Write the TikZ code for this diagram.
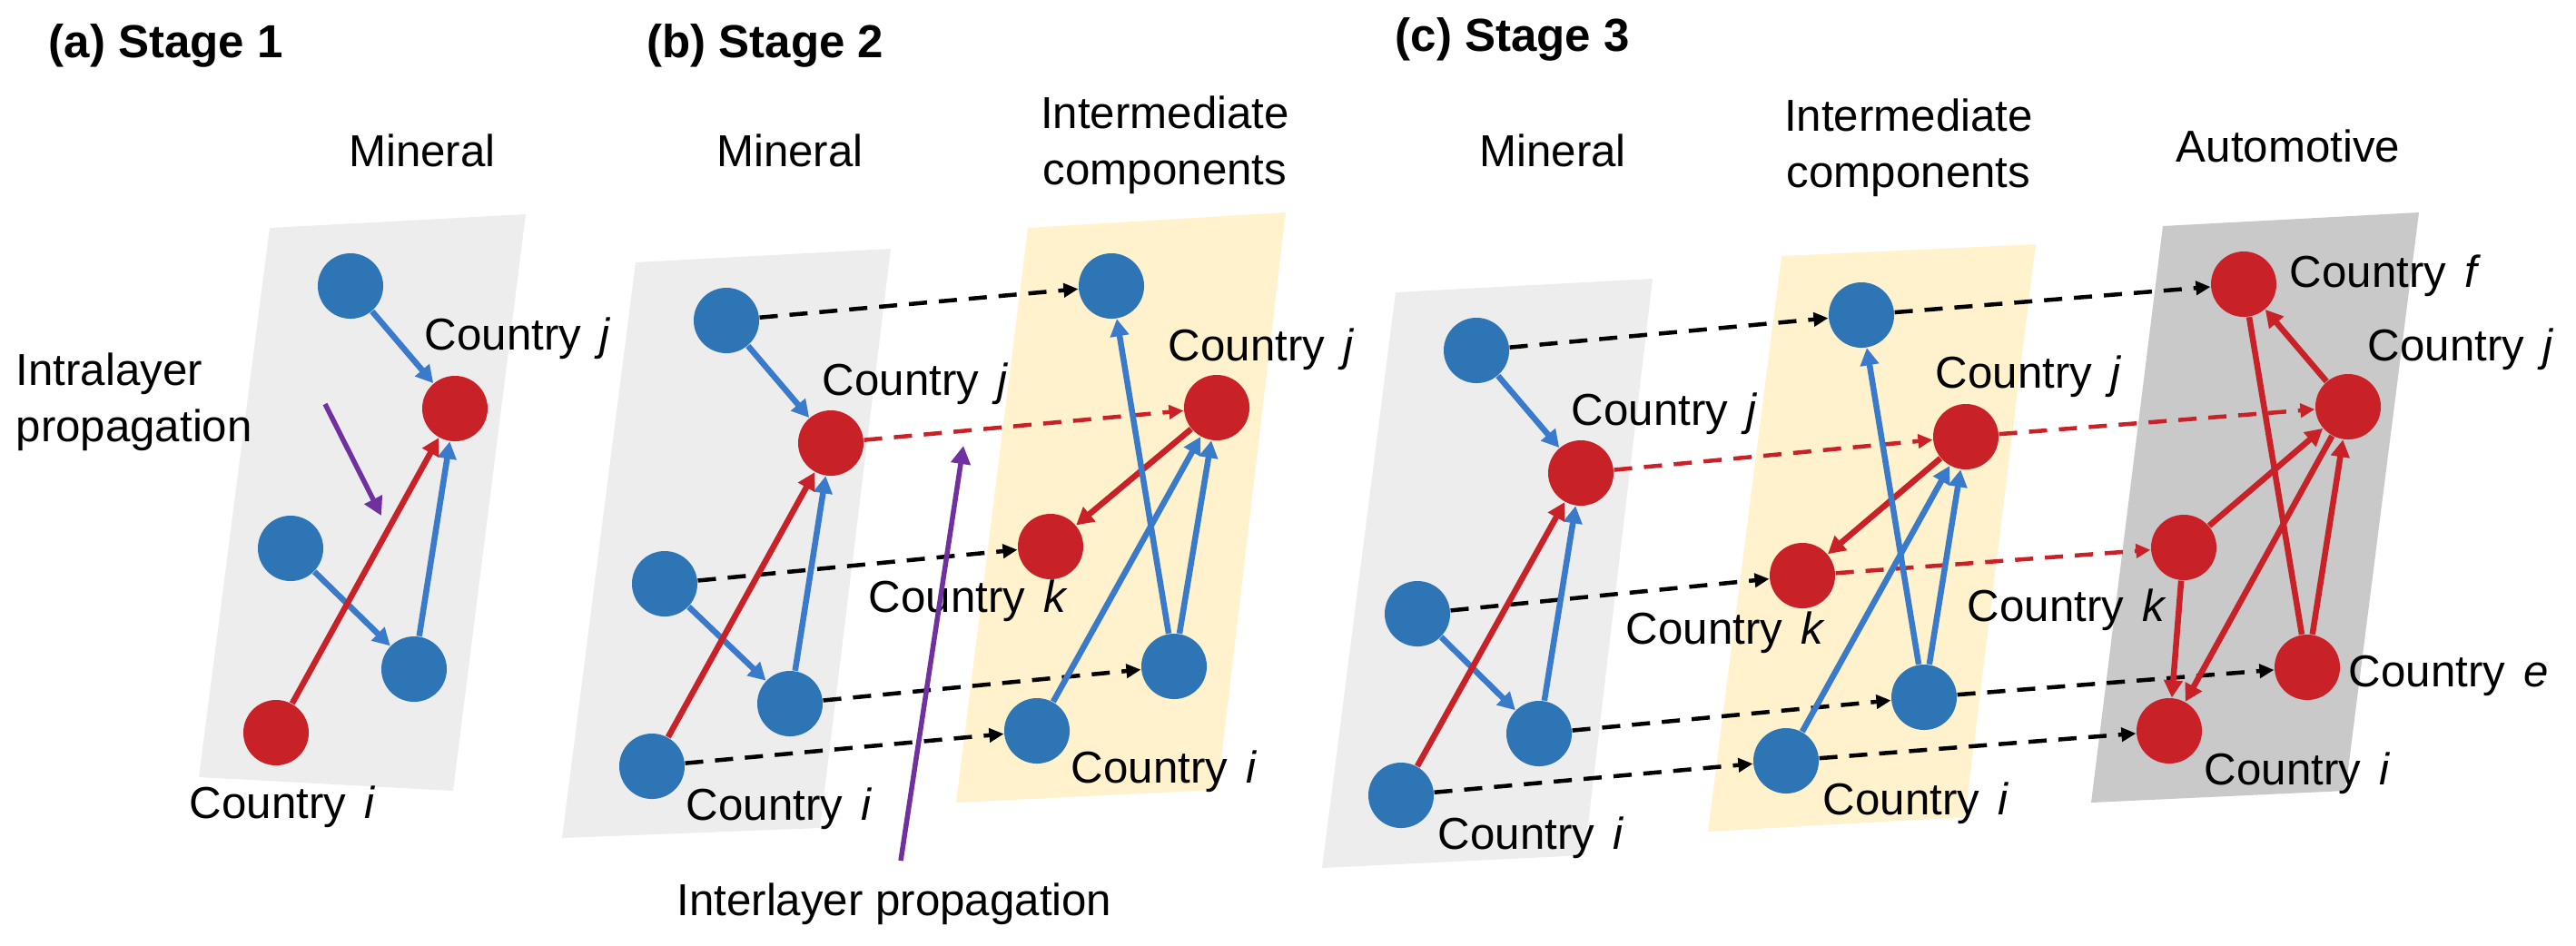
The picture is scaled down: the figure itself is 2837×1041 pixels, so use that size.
\documentclass[tikz,border=0pt]{standalone}
\usepackage{fontspec}
\setmainfont{Liberation Sans}
\usetikzlibrary{arrows.meta}
\definecolor{nblue}{HTML}{2E75B6}
\definecolor{eblue}{HTML}{3A7ACB}
\definecolor{nred}{HTML}{C82127}
\definecolor{ppl}{HTML}{7030A0}
\definecolor{lgray}{HTML}{EDEDED}
\definecolor{lyel}{HTML}{FFF2CC}
\definecolor{dgray}{HTML}{C9C9C9}
\begin{document}
\begin{tikzpicture}[x=0.01cm,y=-0.01cm,
  font=\fontsize{14}{17.6}\selectfont,
  bn/.style={circle,fill=nblue,minimum size=0.72cm,inner sep=0},
  rn/.style={circle,fill=nred,minimum size=0.72cm,inner sep=0},
  be/.style={draw=eblue,line width=0.065cm,-{Triangle[length=0.19cm,width=0.2cm]}},
  re/.style={draw=nred,line width=0.065cm,-{Triangle[length=0.19cm,width=0.2cm]}},
  rl/.style={draw=nred,line width=0.065cm},
  kd/.style={draw=black,line width=0.045cm,dash pattern=on 0.2cm off 0.13cm,-{Triangle[length=0.16cm,width=0.15cm]}},
  rd/.style={kd,draw=nred},
  pa/.style={draw=ppl,line width=0.055cm,-{Triangle[length=0.2cm,width=0.21cm]}},
  lab/.style={anchor=base west,inner sep=0},
  ttl/.style={anchor=base west,inner sep=0,font=\fontsize{14.5}{17.6}\selectfont\bfseries},
  layer/.style={inner sep=0,align=center}
]
\useasboundingbox (0,0) rectangle (2837,1041);
% panels
\fill[lgray] (297,251) -- (579,236) -- (499,871) -- (219,856) -- cycle;
\fill[lgray] (700,289) -- (981,274) -- (903,912) -- (619,923) -- cycle;
\fill[lyel] (1132,251) -- (1416,234) -- (1341,870) -- (1053,884) -- cycle;
\fill[lgray] (1537,322) -- (1820,307) -- (1745,942) -- (1456,956) -- cycle;
\fill[lyel] (1962,282) -- (2242,269) -- (2164,900) -- (1881,916) -- cycle;
\fill[dgray] (2382,249) -- (2664,234) -- (2583,871) -- (2303,884) -- cycle;

% titles
\node[ttl] (ta) at (53,63) {(a) Stage 1};
\node[ttl] (tb) at (712,63) {(b) Stage 2};
\node[ttl] (tc) at (1536,56) {(c) Stage 3};
\node[layer] (ma) at (465,166) {Mineral};
\node[layer] (mb) at (870,166) {Mineral};
\node[layer] (mc) at (1710,166) {Mineral};
\node[layer,anchor=north] (ib) at (1283,105) {Intermediate\\components};
\node[layer,anchor=north] (ic) at (2102,108) {Intermediate\\components};
\node[layer] (au) at (2520,161) {Automotive};

% stage 1 nodes
\node[bn] (a1) at (386,315) {};
\node[rn] (aj) at (501,450) {};
\node[bn] (a2) at (320,604) {};
\node[bn] (a3) at (456,737) {};
\node[rn] (ai) at (304,807) {};
% stage 2 nodes
\node[bn] (b1) at (800,353) {};
\node[rn] (bj) at (915,488) {};
\node[bn] (b2) at (732,643) {};
\node[bn] (b3) at (870,775) {};
\node[bn] (bi) at (718,844) {};
\node[bn] (c1) at (1224,315) {};
\node[rn] (cj) at (1340,449) {};
\node[rn] (ck) at (1157,602) {};
\node[bn] (c3) at (1293,734) {};
\node[bn] (ci) at (1142,805) {};
% stage 3 nodes
\node[bn] (d1) at (1626,386) {};
\node[rn] (dj) at (1741,521) {};
\node[bn] (d2) at (1561,676) {};
\node[bn] (d3) at (1695,808) {};
\node[bn] (di) at (1543,876) {};
\node[bn] (e1) at (2050,347) {};
\node[rn] (ej) at (2165,481) {};
\node[rn] (ek) at (1985,634) {};
\node[bn] (e3) at (2119,768) {};
\node[bn] (ei) at (1967,838) {};
\node[rn] (ff) at (2471,313) {};
\node[rn] (fj) at (2586,448) {};
\node[rn] (fk) at (2405,603) {};
\node[rn] (fe) at (2541,735) {};
\node[rn] (fi) at (2389,805) {};

% interlayer dashed links
\draw[kd] (b1) -- (c1);
\draw[rd] (bj) -- (cj);
\draw[kd] (b2) -- (ck);
\draw[kd] (b3) -- (c3);
\draw[kd] (bi) -- (ci);
\draw[kd] (d1) -- (e1);
\draw[rd] (dj) -- (ej);
\draw[kd] (d2) -- (ek);
\draw[kd] (d3) -- (e3);
\draw[kd] (di) -- (ei);
\draw[kd] (e1) -- (ff);
\draw[rd] (ej) -- (fj);
\draw[rd] (ek) -- (fk);
\draw[kd] (e3) -- (fe);
\draw[kd] (ei) -- (fi);

% intralayer edges
\draw[be] (a1) -- (aj);
\draw[be] (a2) -- (a3);
\draw[be] (a3) -- (aj);
\draw[re] (ai) -- (aj);

\draw[be] (b1) -- (bj);
\draw[be] (b2) -- (b3);
\draw[be] (b3) -- (bj);
\draw[re] (bi) -- (bj);
\draw[re] (cj) -- (ck);
\draw[be] (c3) -- (c1);
\draw[be] (ci) -- (cj);
\draw[be] (c3) -- (cj);

\draw[be] (d1) -- (dj);
\draw[be] (d2) -- (d3);
\draw[be] (d3) -- (dj);
\draw[re] (di) -- (dj);
\draw[re] (ej) -- (ek);
\draw[be] (e3) -- (e1);
\draw[be] (ei) -- (ej);
\draw[be] (e3) -- (ej);

\draw[re] (fj) -- (ff);
\draw[rl] (ff) -- (fe);
\draw[re] (fk) -- (fj);
\draw[re] (fe) -- (fj);
\draw[re] (fk) -- (fi);
\draw[re] (fj) -- (fi);

% country labels
\newcommand{\cty}[1]{Country\hspace{0.2cm}\textit{#1}}
\node[lab] (laj) at (467,385) {\cty{j}};
\node[lab] (lai) at (208,901) {\cty{i}};
\node[lab] (lbj) at (905,435) {\cty{j}};
\node[lab] (lbi) at (755,903) {\cty{i}};
\node[lab] (lcj) at (1286,397) {\cty{j}};
\node[lab] (lck) at (956,674) {\cty{k}};
\node[lab] (lci) at (1179,862) {\cty{i}};
\node[lab] (ldj) at (1730,468) {\cty{j}};
\node[lab] (ldi) at (1583,935) {\cty{i}};
\node[lab] (lej) at (2131,427) {\cty{j}};
\node[lab] (lek) at (1790,709) {\cty{k}};
\node[lab] (lei) at (2007,897) {\cty{i}};
\node[lab] (lff) at (2521,316) {\cty{f}};
\node[lab] (lfj) at (2607,397) {\cty{j}};
\node[lab] (lfk) at (2166,684) {\cty{k}};
\node[lab] (lfe) at (2586,756) {\cty{e}};
\node[lab] (lfi) at (2427,864) {\cty{i}};

% propagation annotations
\node[layer,align=left,anchor=north west] (intra) at (17,388) {Intralayer\\propagation};
\coordinate (p1s) at (358,445);
\coordinate (p1e) at (420,568);
\draw[pa] (p1s) -- (p1e);
\node[inner sep=0,anchor=base] (inter) at (985,1008) {Interlayer propagation};
\coordinate (p2s) at (992,948);
\coordinate (p2e) at (1061,491);
\draw[pa] (p2s) -- (p2e);
\end{tikzpicture}
\end{document}
